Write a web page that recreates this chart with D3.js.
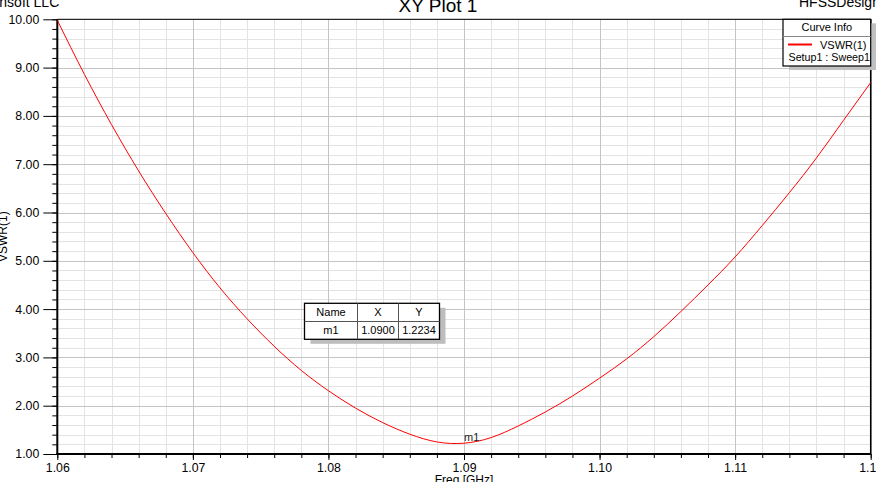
<!DOCTYPE html>
<html>
<head>
<meta charset="utf-8">
<script src="https://cdn.jsdelivr.net/npm/d3@7"></script>
<style>
  html, body { margin: 0; padding: 0; background: #ffffff; }
  svg { display: block; font-family: "Liberation Sans", Arial, sans-serif; }
</style>
</head>
<body>
<svg id="chart" width="876" height="482"></svg>
<script>
// ---- data ----
const freqs = [1.060, 1.062, 1.064, 1.066, 1.068, 1.070, 1.072, 1.074, 1.076, 1.078,
               1.080, 1.082, 1.084, 1.086, 1.088, 1.090, 1.092, 1.094, 1.096,
               1.098, 1.100, 1.102, 1.104, 1.106, 1.108, 1.110, 1.112, 1.114, 1.116,
               1.118, 1.120];
const vswr  = [9.98, 8.86, 7.82, 6.86, 5.98, 5.17, 4.44, 3.80, 3.23, 2.73,
               2.31, 1.95, 1.65, 1.41, 1.25, 1.2234, 1.34, 1.58, 1.87,
               2.20, 2.57, 2.97, 3.43, 3.95, 4.50, 5.08, 5.73, 6.41, 7.13,
               7.91, 8.69];
const xMajorTicks = [1.06, 1.07, 1.08, 1.09, 1.10, 1.11, 1.12];
const xTickLabels = ["1.06", "1.07", "1.08", "1.09", "1.10", "1.11", "1.12"];
const yMajorTicks = [1, 2, 3, 4, 5, 6, 7, 8, 9, 10];
const yTickLabels = ["1.00", "2.00", "3.00", "4.00", "5.00", "6.00", "7.00", "8.00", "9.00", "10.00"];
const seriesName = "VSWR(1)";
const seriesSetup = "Setup1 : Sweep1";
const markerName = "m1";
const markerX = 1.09;
const markerY = 1.2234;
const markerXLabel = "1.0900";
const markerYLabel = "1.2234";

// ---- layout ----
const L = 57.3, R = 870.7, T = 19.3, B = 454;
const svg = d3.select("#chart");
const x = d3.scaleLinear().domain([1.06, 1.12]).range([L, R]);
const y = d3.scaleLinear().domain([1, 10]).range([B, T]);

const xMinor = d3.range(0, 31).map(i => 1.06 + i * 0.002);
const yMinor = d3.range(0, 46).map(i => 1 + i * 0.2);

// minor grid
const g = svg.append("g");
g.selectAll("line.xmin").data(xMinor).join("line")
  .attr("x1", d => Math.round(x(d)) + 0.5).attr("x2", d => Math.round(x(d)) + 0.5)
  .attr("y1", T).attr("y2", B).attr("stroke", "#e3e3e3").attr("stroke-width", 1);
g.selectAll("line.ymin").data(yMinor).join("line")
  .attr("y1", d => Math.round(y(d)) + 0.5).attr("y2", d => Math.round(y(d)) + 0.5)
  .attr("x1", L).attr("x2", R).attr("stroke", "#e3e3e3").attr("stroke-width", 1);
// major grid
g.selectAll("line.xmaj").data(xMajorTicks).join("line")
  .attr("x1", d => Math.round(x(d)) + 0.5).attr("x2", d => Math.round(x(d)) + 0.5)
  .attr("y1", T).attr("y2", B).attr("stroke", "#c4c4c4").attr("stroke-width", 1);
g.selectAll("line.ymaj").data(yMajorTicks).join("line")
  .attr("y1", d => Math.round(y(d)) + 0.5).attr("y2", d => Math.round(y(d)) + 0.5)
  .attr("x1", L).attr("x2", R).attr("stroke", "#c4c4c4").attr("stroke-width", 1);

// axes (ticks + labels)
const yAxisMinor = d3.axisLeft(y).tickValues(yMinor).tickSize(5).tickFormat("");
const yAxis = d3.axisLeft(y).tickValues(yMajorTicks).tickSize(14).tickPadding(4)
  .tickFormat((d, i) => yTickLabels[i]);
const xAxisMinor = d3.axisBottom(x).tickValues(xMinor).tickSize(4).tickFormat("");
const xAxis = d3.axisBottom(x).tickValues(xMajorTicks).tickSize(6).tickPadding(3)
  .tickFormat((d, i) => xTickLabels[i]);

function styleAxis(sel) {
  sel.select(".domain").remove();
  sel.selectAll(".tick line").attr("stroke", "#000").attr("stroke-width", 1);
  sel.selectAll(".tick text").attr("fill", "#000").style("font-size", "12.3px")
    .style("font-family", '"Liberation Sans", Arial, sans-serif');
}
svg.append("g").attr("transform", `translate(${L},0)`).call(yAxisMinor).call(styleAxis);
svg.append("g").attr("transform", `translate(${L},0)`).call(yAxis).call(styleAxis);
svg.append("g").attr("transform", `translate(0,${B})`).call(xAxisMinor).call(styleAxis);
svg.append("g").attr("transform", `translate(0,${B})`).call(xAxis).call(styleAxis);

// frame
svg.append("line").attr("x1", L).attr("x2", R).attr("y1", T).attr("y2", T).attr("stroke", "#000").attr("stroke-width", 1);
svg.append("line").attr("x1", R).attr("x2", R).attr("y1", T).attr("y2", B).attr("stroke", "#000").attr("stroke-width", 1.5);
svg.append("line").attr("x1", L).attr("x2", L).attr("y1", T).attr("y2", B + 1).attr("stroke", "#000").attr("stroke-width", 2);
svg.append("line").attr("x1", L - 1).attr("x2", R).attr("y1", B).attr("y2", B).attr("stroke", "#000").attr("stroke-width", 2);

// curve
svg.append("clipPath").attr("id", "clip").append("rect")
  .attr("x", L).attr("y", T).attr("width", R - L).attr("height", B - T);
const pts = freqs.map((f, i) => [f, vswr[i]]);
const line = d3.line().x(d => x(d[0])).y(d => y(d[1])).curve(d3.curveNatural);
svg.append("path").attr("clip-path", "url(#clip)").attr("d", line(pts))
  .attr("fill", "none").attr("stroke", "#ff0000").attr("stroke-width", 1);

// marker label
svg.append("text").attr("x", x(markerX)).attr("y", y(markerY) - 2)
  .attr("fill", "#222").style("font-size", "11px").text(markerName);

// texts
svg.append("text").attr("x", 438).attr("y", 12).attr("text-anchor", "middle")
  .style("font-size", "19px").attr("fill", "#000").text("XY Plot 1");
svg.append("text").attr("x", -10).attr("y", 7).style("font-size", "14px").attr("fill", "#000").text("Ansoft LLC");
svg.append("text").attr("x", 799).attr("y", 7).style("font-size", "14px").attr("fill", "#000").text("HFSSDesign1");
svg.append("text").attr("x", (L + R) / 2).attr("y", 484).attr("text-anchor", "middle")
  .style("font-size", "12px").attr("fill", "#000").text("Freq [GHz]");
svg.append("text").attr("transform", `translate(6.5,${(T + B) / 2}) rotate(-90)`)
  .attr("text-anchor", "middle").style("font-size", "12px").attr("fill", "#000").text("VSWR(1)");

// legend
const lg = svg.append("g");
const lx = 783, ly = 19.3, lw = 87.7, lh = 46.7;
lg.append("rect").attr("x", lx + 6).attr("y", ly + 4).attr("width", lw).attr("height", lh).attr("fill", "#c0c0c0");
lg.append("rect").attr("x", lx).attr("y", ly).attr("width", lw).attr("height", lh)
  .attr("fill", "#fff").attr("stroke", "#000").attr("stroke-width", 1.2);
lg.append("line").attr("x1", lx).attr("x2", lx + lw).attr("y1", 36.5).attr("y2", 36.5).attr("stroke", "#888").attr("stroke-width", 1);
lg.append("text").attr("x", lx + lw / 2).attr("y", 31).attr("text-anchor", "middle").style("font-size", "11px").text("Curve Info");
lg.append("line").attr("x1", 788).attr("x2", 812).attr("y1", 44.5).attr("y2", 44.5).attr("stroke", "#ff0000").attr("stroke-width", 2);
lg.append("text").attr("x", 820).attr("y", 48.5).style("font-size", "11px").text(seriesName);
lg.append("text").attr("x", 788.5).attr("y", 60.5).style("font-size", "10.7px").text(seriesSetup);

// marker table
const mt = svg.append("g");
const tx = 304.5, ty = 303.3, tw = 135, th = 36;
mt.append("rect").attr("x", tx + 6).attr("y", ty + 4.5).attr("width", tw).attr("height", th).attr("fill", "#bdbdbd");
mt.append("rect").attr("x", tx).attr("y", ty).attr("width", tw).attr("height", th)
  .attr("fill", "#fff").attr("stroke", "#000").attr("stroke-width", 1.3);
mt.append("line").attr("x1", tx).attr("x2", tx + tw).attr("y1", 321.5).attr("y2", 321.5).attr("stroke", "#555");
mt.append("line").attr("x1", 357.5).attr("x2", 357.5).attr("y1", ty).attr("y2", ty + th).attr("stroke", "#555");
mt.append("line").attr("x1", 398.5).attr("x2", 398.5).attr("y1", ty).attr("y2", ty + th).attr("stroke", "#555");
const cols = [331, 378, 419];
const hdr = ["Name", "X", "Y"];
const row = [markerName, markerXLabel, markerYLabel];
hdr.forEach((t, i) => mt.append("text").attr("x", cols[i]).attr("y", 316).attr("text-anchor", "middle").style("font-size", "11px").text(t));
row.forEach((t, i) => mt.append("text").attr("x", cols[i]).attr("y", 334).attr("text-anchor", "middle").style("font-size", "11px").text(t));
</script>
</body>
</html>
